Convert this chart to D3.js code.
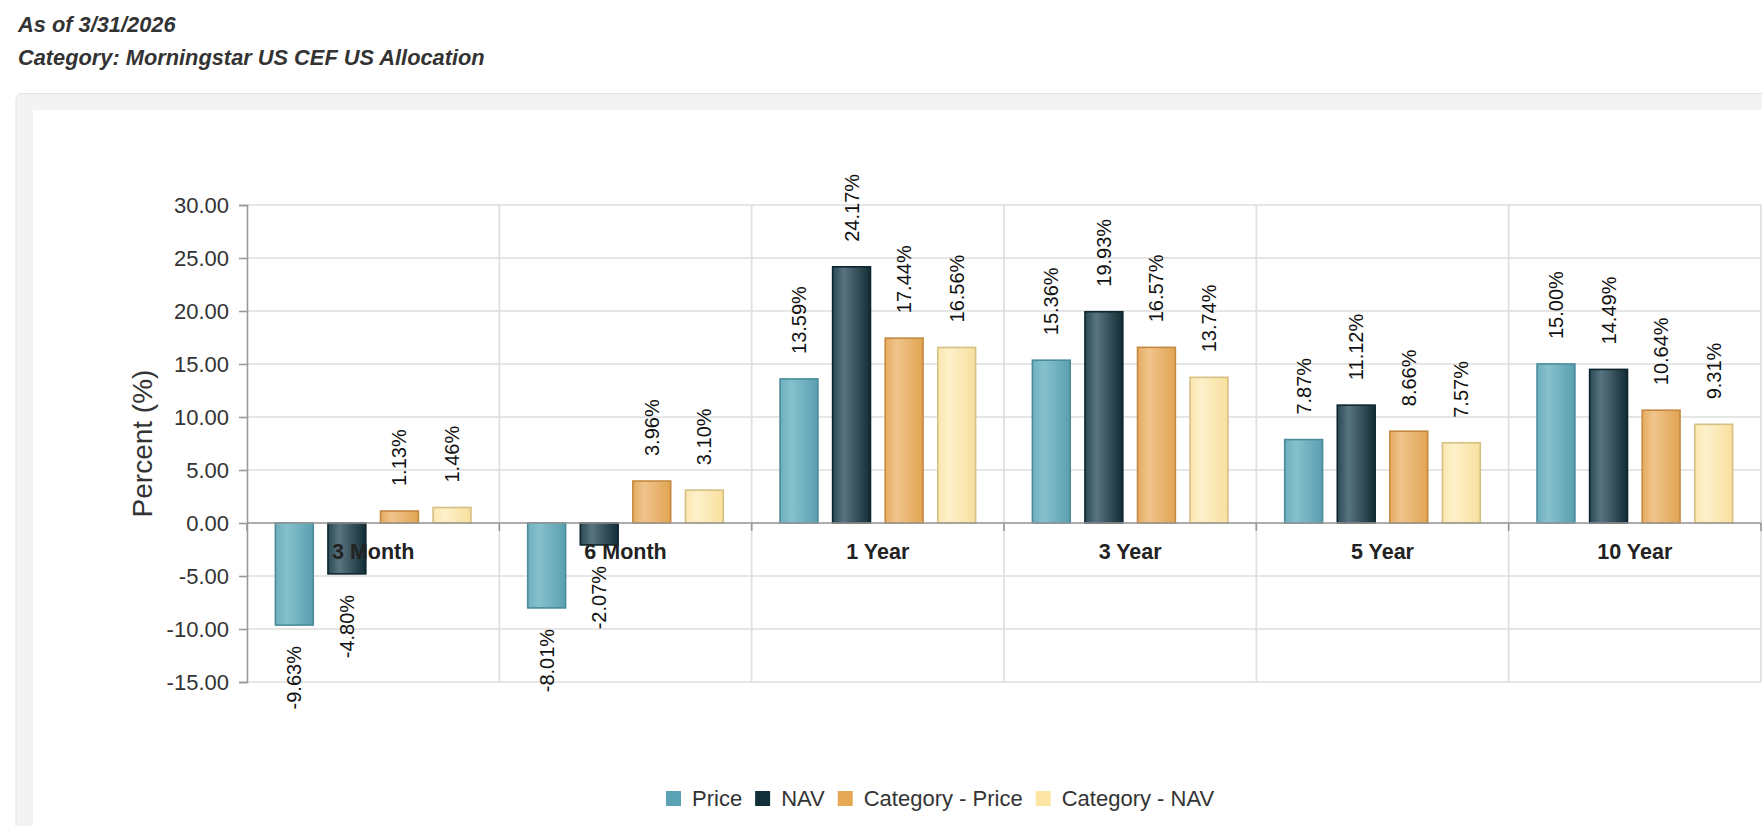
<!DOCTYPE html>
<html>
<head>
<meta charset="utf-8">
<script src="https://cdn.jsdelivr.net/npm/d3@7"></script>
<style>
  body { margin: 0; background: #fff; }
  svg { display: block; font-family: "Liberation Sans", Arial, Helvetica, sans-serif; }
</style>
</head>
<body>
<svg id="chart"></svg>
<script>
// chart data
const categories = ["3 Month", "6 Month", "1 Year", "3 Year", "5 Year", "10 Year"];
const seriesNames = ["Price", "NAV", "Category - Price", "Category - NAV"];
const priceValues = [-9.63, -8.01, 13.59, 15.36, 7.87, 15.00];
const navValues = [-4.80, -2.07, 24.17, 19.93, 11.12, 14.49];
const catPriceValues = [1.13, 3.96, 17.44, 16.57, 8.66, 10.64];
const catNavValues = [1.46, 3.10, 16.56, 13.74, 7.57, 9.31];
const yTicks = [-15, -10, -5, 0, 5, 10, 15, 20, 25, 30];
const headerLines = ["As of 3/31/2026", "Category: Morningstar US CEF US Allocation"];

const W = 1762, H = 826;
const seriesValues = [priceValues, navValues, catPriceValues, catNavValues];

// colours per series: [edge, highlight, dark, stroke, legend]
const palette = [
  ["#6eafbe", "#86c1cd", "#5a9fb0", "#4a8b9a", "#5ba3b4"],
  ["#2a4a53", "#587480", "#132c35", "#0d252d", "#12303a"],
  ["#e6ab60", "#efc48c", "#e2a452", "#c4893e", "#e6a855"],
  ["#fbe6ae", "#fdf1cb", "#f8df9c", "#d5bf83", "#fce5a5"]
];

// plain hyphen for negatives, like the original
const fmt = v => v.toFixed(2);

const svg = d3.select("#chart").attr("width", W).attr("height", H);

// gradients for bars
const defs = svg.append("defs");
palette.forEach((p, i) => {
  const g = defs.append("linearGradient")
    .attr("id", "grad" + i)
    .attr("x1", "0%").attr("x2", "100%").attr("y1", "0%").attr("y2", "0%");
  g.append("stop").attr("offset", "0%").attr("stop-color", p[0]);
  g.append("stop").attr("offset", "30%").attr("stop-color", p[1]);
  g.append("stop").attr("offset", "100%").attr("stop-color", p[2]);
});

// header text
svg.selectAll("text.header")
  .data(headerLines)
  .enter()
  .append("text")
  .attr("class", "header")
  .attr("x", 18)
  .attr("y", (d, i) => 32 + i * 33)
  .style("font-size", "21.8px")
  .style("font-weight", "bold")
  .style("font-style", "italic")
  .style("fill", "#333")
  .text(d => d);

// panel behind the chart
svg.append("rect")
  .attr("x", 16).attr("y", 93.5)
  .attr("width", W).attr("height", H)
  .attr("rx", 6)
  .style("fill", "#f3f3f3")
  .style("stroke", "#e3e3e3");
svg.append("rect")
  .attr("x", 33).attr("y", 110)
  .attr("width", W).attr("height", H)
  .style("fill", "#fff");

// scales
const plotLeft = 247, plotRight = 1761, plotTop = 205, plotBottom = 682;

const x0 = d3.scaleBand()
  .domain(categories)
  .range([plotLeft, plotRight])
  .padding(0);

const x1 = d3.scaleBand()
  .domain(seriesNames)
  .range([0, x0.bandwidth()])
  .paddingInner(0.28)
  .paddingOuter(0.54);

const y = d3.scaleLinear()
  .domain([-15, 30])
  .range([plotBottom, plotTop]);

// horizontal gridlines
svg.append("g")
  .selectAll("line")
  .data(yTicks)
  .enter()
  .append("line")
  .attr("x1", plotLeft).attr("x2", plotRight)
  .attr("y1", d => y(d)).attr("y2", d => y(d))
  .style("stroke", "#dedede")
  .style("stroke-width", 1.7);

// vertical category separators
svg.append("g")
  .selectAll("line")
  .data(categories.slice(1).map(c => x0(c)).concat([plotRight]))
  .enter()
  .append("line")
  .attr("x1", d => d).attr("x2", d => d)
  .attr("y1", plotTop).attr("y2", plotBottom)
  .style("stroke", "#dedede")
  .style("stroke-width", 1.7);

// y axis
const yAxis = svg.append("g")
  .attr("transform", `translate(${plotLeft},0)`)
  .call(d3.axisLeft(y).tickValues(yTicks).tickFormat(fmt).tickSize(8).tickPadding(10));
yAxis.select(".domain").style("stroke", "#999").style("stroke-width", 1.6);
yAxis.selectAll(".tick line").style("stroke", "#999").style("stroke-width", 1.6);
yAxis.selectAll(".tick text")
  .style("font-size", "22px")
  .style("fill", "#333")
  .style("font-family", "'Liberation Sans', Arial, sans-serif");

// y axis title
svg.append("text")
  .attr("transform", `translate(152, ${y(7.5)}) rotate(-90)`)
  .attr("text-anchor", "middle")
  .style("font-size", "28px")
  .style("fill", "#333")
  .text("Percent (%)");

// bars
const bars = [];
categories.forEach((c, ci) => {
  seriesNames.forEach((s, si) => {
    bars.push({ cat: c, series: s, si: si, value: seriesValues[si][ci] });
  });
});

svg.append("g")
  .selectAll("rect")
  .data(bars)
  .enter()
  .append("rect")
  .attr("x", d => x0(d.cat) + x1(d.series))
  .attr("y", d => y(Math.max(0, d.value)))
  .attr("width", x1.bandwidth())
  .attr("height", d => Math.abs(y(d.value) - y(0)))
  .style("fill", d => `url(#grad${d.si})`)
  .style("stroke", d => palette[d.si][3])
  .style("stroke-width", 1.6);

// x axis line at zero with ticks on category edges
svg.append("line")
  .attr("x1", plotLeft).attr("x2", plotRight)
  .attr("y1", y(0)).attr("y2", y(0))
  .style("stroke", "#999")
  .style("stroke-width", 1.6);
svg.append("g")
  .selectAll("line")
  .data(categories.map(c => x0(c)).concat([plotRight]))
  .enter()
  .append("line")
  .attr("x1", d => d).attr("x2", d => d)
  .attr("y1", y(0)).attr("y2", y(0) + 8)
  .style("stroke", "#999")
  .style("stroke-width", 1.6);

// category labels
svg.append("g")
  .selectAll("text")
  .data(categories)
  .enter()
  .append("text")
  .attr("x", d => x0(d) + x0.bandwidth() / 2)
  .attr("y", 559)
  .attr("text-anchor", "middle")
  .style("font-size", "21.5px")
  .style("font-weight", "bold")
  .style("fill", "#222")
  .text(d => d);

// value labels, rotated
svg.append("g")
  .selectAll("text")
  .data(bars)
  .enter()
  .append("text")
  .attr("transform", d => {
    const cx = x0(d.cat) + x1(d.series) + x1.bandwidth() / 2 + 7;
    const ty = d.value >= 0 ? y(d.value) - 25 : y(d.value) + 21;
    return `translate(${cx},${ty}) rotate(-90)`;
  })
  .attr("text-anchor", d => d.value >= 0 ? "start" : "end")
  .style("font-size", "20px")
  .style("fill", "#111")
  .text(d => fmt(d.value) + "%");

// legend
const legend = svg.append("g").attr("transform", "translate(666,791)");
let lx = 0;
seriesNames.forEach((s, i) => {
  const item = legend.append("g").attr("transform", `translate(${lx},0)`);
  item.append("rect")
    .attr("width", 15).attr("height", 15)
    .style("fill", palette[i][4]);
  const t = item.append("text")
    .attr("x", 26).attr("y", 14.5)
    .style("font-size", "22px")
    .style("fill", "#333")
    .text(s);
  lx += 26 + t.node().getComputedTextLength() + 13;
});
</script>
</body>
</html>
